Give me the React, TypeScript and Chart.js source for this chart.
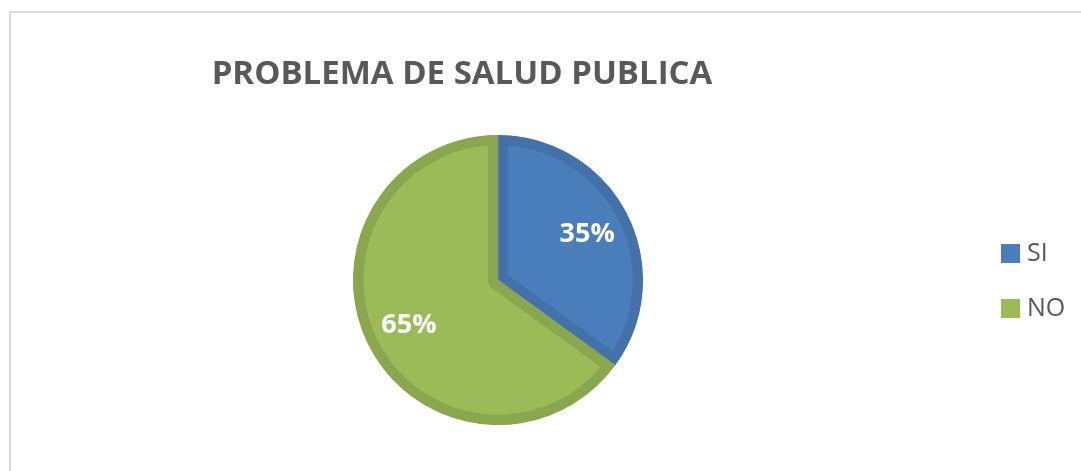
import React, { useEffect, useRef } from "react";
import { Chart, registerables } from "chart.js";

Chart.register(...registerables);

const TITLE = "PROBLEMA DE SALUD PUBLICA";
const categories = ["SI", "NO"];
const values = [35, 65];
const fillColors = ["#4a7ebb", "#9bbb59"];
const borderColors = ["#4371aa", "#8aa74f"];

const FONT = "'Open Sans', 'Liberation Sans', sans-serif";

const overlayPlugin = {
  id: "overlay",
  afterDatasetsDraw(chart: any) {
    const ctx = chart.ctx as CanvasRenderingContext2D;
    const meta = chart.getDatasetMeta(0);
    ctx.save();
    // slice labels
    ctx.fillStyle = "#ffffff";
    ctx.font = `bold 27px ${FONT}`;
    ctx.textAlign = "center";
    ctx.textBaseline = "middle";
    meta.data.forEach((arc: any, i: number) => {
      const p = arc.getProps(["x", "y", "startAngle", "endAngle", "outerRadius"], true);
      const mid = (p.startAngle + p.endAngle) / 2;
      const r = p.outerRadius * 0.69;
      ctx.fillText(`${values[i]}%`, p.x + Math.cos(mid) * r, p.y + Math.sin(mid) * r);
    });
    // title
    ctx.fillStyle = "#595959";
    ctx.font = `bold 33px ${FONT}`;
    ctx.textBaseline = "alphabetic";
    ctx.fillText(TITLE, 462, 84);
    // legend
    ctx.textAlign = "left";
    ctx.textBaseline = "middle";
    ctx.font = `25px ${FONT}`;
    categories.forEach((c, i) => {
      const y = 244 + i * 55;
      ctx.fillStyle = fillColors[i];
      ctx.fillRect(1001, y, 19, 19);
      ctx.fillStyle = "#595959";
      ctx.fillText(c, 1027, y + 10);
    });
    ctx.restore();
  },
};

export default function App() {
  const ref = useRef<HTMLCanvasElement>(null);
  useEffect(() => {
    if (!ref.current) return;
    const chart = new Chart(ref.current, {
      type: "pie",
      data: {
        labels: categories,
        datasets: [
          {
            data: values,
            backgroundColor: fillColors,
            borderColor: borderColors,
            borderWidth: 10,
            borderAlign: "inner",
          },
        ],
      },
      options: {
        animation: false,
        responsive: false,
        events: [],
        layout: { padding: { top: 135, bottom: 46, left: 200, right: 285 } },
        plugins: {
          legend: { display: false },
          title: { display: false },
          tooltip: { enabled: false },
        },
      },
      plugins: [overlayPlugin],
    });
    return () => chart.destroy();
  }, []);
  return (
    <div style={{ position: "fixed", left: 0, top: 0, width: 1081, height: 471, background: "#fff", overflow: "hidden" }}>
      <div
        style={{
          position: "absolute",
          left: 9,
          top: 11,
          width: 1200,
          height: 600,
          border: "2px solid #d9d9d9",
        }}
      />
      <canvas ref={ref} width={1081} height={471} style={{ position: "absolute", left: 0, top: 0 }} />
    </div>
  );
}
